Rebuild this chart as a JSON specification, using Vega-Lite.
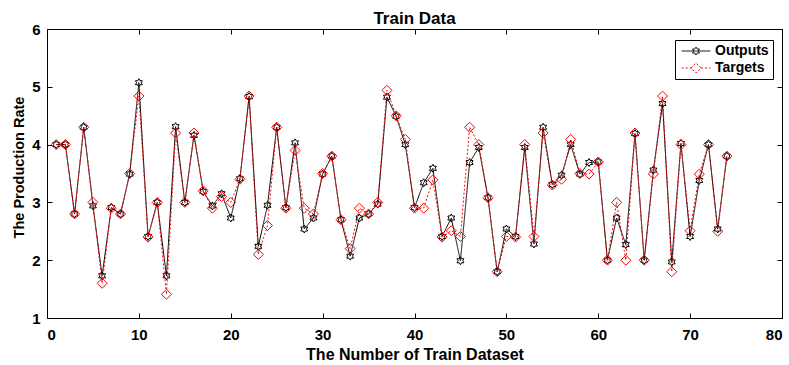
{
  "$schema": "https://vega.github.io/schema/vega-lite/v6.json",
  "width": 735,
  "height": 289,
  "autosize": "none",
  "padding": {"left": 47, "top": 29, "right": 7, "bottom": 47},
  "background": "white",
  "title": {"text": "Train Data", "fontSize": 17, "fontWeight": "bold", "font": "Liberation Sans", "color": "black", "offset": 4, "dy": 10},
  "data": {"values": [
    {"i":1,"Outputs":4.0,"Targets":4.0},{"i":2,"Outputs":4.0,"Targets":4.0},{"i":3,"Outputs":2.8,"Targets":2.8},{"i":4,"Outputs":4.3,"Targets":4.3},
    {"i":5,"Outputs":2.94,"Targets":3.0},{"i":6,"Outputs":1.73,"Targets":1.6},{"i":7,"Outputs":2.91,"Targets":2.9},{"i":8,"Outputs":2.8,"Targets":2.8},
    {"i":9,"Outputs":3.49,"Targets":3.5},{"i":10,"Outputs":5.07,"Targets":4.84},{"i":11,"Outputs":2.41,"Targets":2.4},{"i":12,"Outputs":3.0,"Targets":3.0},
    {"i":13,"Outputs":1.73,"Targets":1.41},{"i":14,"Outputs":4.31,"Targets":4.2},{"i":15,"Outputs":3.0,"Targets":3.0},{"i":16,"Outputs":4.16,"Targets":4.2},
    {"i":17,"Outputs":3.19,"Targets":3.2},{"i":18,"Outputs":2.94,"Targets":2.9},{"i":19,"Outputs":3.15,"Targets":3.1},{"i":20,"Outputs":2.73,"Targets":3.0},
    {"i":21,"Outputs":3.41,"Targets":3.4},{"i":22,"Outputs":4.83,"Targets":4.84},{"i":23,"Outputs":2.24,"Targets":2.1},{"i":24,"Outputs":2.95,"Targets":2.6},
    {"i":25,"Outputs":4.3,"Targets":4.3},{"i":26,"Outputs":2.91,"Targets":2.9},{"i":27,"Outputs":4.03,"Targets":3.9},{"i":28,"Outputs":2.54,"Targets":2.9},
    {"i":29,"Outputs":2.73,"Targets":2.8},{"i":30,"Outputs":3.49,"Targets":3.5},{"i":31,"Outputs":3.8,"Targets":3.8},{"i":32,"Outputs":2.7,"Targets":2.7},
    {"i":33,"Outputs":2.07,"Targets":2.2},{"i":34,"Outputs":2.73,"Targets":2.9},{"i":35,"Outputs":2.8,"Targets":2.8},{"i":36,"Outputs":2.97,"Targets":3.0},
    {"i":37,"Outputs":4.82,"Targets":4.94},{"i":38,"Outputs":4.49,"Targets":4.5},{"i":39,"Outputs":4.0,"Targets":4.09},{"i":40,"Outputs":2.91,"Targets":2.9},
    {"i":41,"Outputs":3.34,"Targets":2.9},{"i":42,"Outputs":3.59,"Targets":3.39},{"i":43,"Outputs":2.41,"Targets":2.4},{"i":44,"Outputs":2.73,"Targets":2.51},
    {"i":45,"Outputs":1.99,"Targets":2.41},{"i":46,"Outputs":3.69,"Targets":4.3},{"i":47,"Outputs":3.95,"Targets":4.0},{"i":48,"Outputs":3.08,"Targets":3.08},
    {"i":49,"Outputs":1.8,"Targets":1.8},{"i":50,"Outputs":2.54,"Targets":2.41},{"i":51,"Outputs":2.41,"Targets":2.4},{"i":52,"Outputs":3.95,"Targets":4.0},
    {"i":53,"Outputs":2.28,"Targets":2.41},{"i":54,"Outputs":4.3,"Targets":4.2},{"i":55,"Outputs":3.31,"Targets":3.3},{"i":56,"Outputs":3.47,"Targets":3.4},
    {"i":57,"Outputs":4.0,"Targets":4.09},{"i":58,"Outputs":3.49,"Targets":3.5},{"i":59,"Outputs":3.69,"Targets":3.49},{"i":60,"Outputs":3.7,"Targets":3.7},
    {"i":61,"Outputs":2.0,"Targets":2.0},{"i":62,"Outputs":2.73,"Targets":3.0},{"i":63,"Outputs":2.27,"Targets":2.0},{"i":64,"Outputs":4.19,"Targets":4.2},
    {"i":65,"Outputs":2.0,"Targets":2.0},{"i":66,"Outputs":3.56,"Targets":3.49},{"i":67,"Outputs":4.71,"Targets":4.84},{"i":68,"Outputs":1.97,"Targets":1.8},
    {"i":69,"Outputs":4.02,"Targets":4.0},{"i":70,"Outputs":2.41,"Targets":2.51},{"i":71,"Outputs":3.38,"Targets":3.49},{"i":72,"Outputs":4.0,"Targets":4.0},
    {"i":73,"Outputs":2.54,"Targets":2.5},{"i":74,"Outputs":3.8,"Targets":3.8}
  ]},
  "transform": [{"fold": ["Outputs", "Targets"], "as": ["series", "value"]}],
  "config": {
    "view": {"stroke": "black", "strokeWidth": 1},
    "axis": {
      "grid": false,
      "domain": false,
      "tickColor": "black",
      "tickSize": -5,
      "labelFont": "Liberation Sans",
      "labelFontWeight": "bold",
      "labelFontSize": 15,
      "labelColor": "black",
      "titleFont": "Liberation Sans",
      "titleFontWeight": "bold",
      "titleFontSize": 16,
      "titleColor": "black"
    }
  },
  "layer": [
    {
      "mark": {"type": "line", "strokeWidth": 1},
      "encoding": {
        "x": {"field": "i", "type": "quantitative", "scale": {"domain": [0, 80], "nice": false},
              "axis": {"values": [0,10,20,30,40,50,60,70,80], "title": "The Number of Train Dataset", "labelPadding": 14, "titlePadding": 4}},
        "y": {"field": "value", "type": "quantitative", "scale": {"domain": [1, 6], "nice": false, "zero": false},
              "axis": {"values": [1,2,3,4,5,6], "title": "The Production Rate", "titleFontSize": 14.5, "titleY": 138, "labelPadding": 12, "titlePadding": 5}},
        "color": {"field": "series", "type": "nominal", "scale": {"domain": ["Outputs", "Targets"], "range": ["black", "red"]},
          "legend": {
            "title": null, "orient": "none", "legendX": 628, "legendY": 11,
            "fillColor": "white", "strokeColor": "black", "padding": 4,
            "labelFont": "Liberation Sans", "labelFontWeight": "bold", "labelFontSize": 14, "labelColor": "black",
            "symbolSize": 64, "rowPadding": 3, "symbolStrokeWidth": 1, "symbolOffset": 10, "labelOffset": 12,
            "encode": {"symbols": {"update": {
              "shape": [
                {"test": "datum.value === 'Outputs'", "value": "M-3.6,0L3.6,0M0,-1L0.289,-0.5L0.866,-0.5L0.577,0L0.866,0.5L0.289,0.5L0,1L-0.289,0.5L-0.866,0.5L-0.577,0L-0.866,-0.5L-0.289,-0.5Z"},
                {"value": "M-3.6,0L-1.25,0M1.25,0L3.6,0M-1.25,0L0,-1.25L1.25,0L0,1.25Z"}
              ],
              "fill": {"value": "transparent"},
              "strokeWidth": {"value": 1}
            }}}
          }},
        "strokeDash": {"field": "series", "type": "nominal", "scale": {"domain": ["Outputs", "Targets"], "range": [[1, 0], [2, 2]]}}
      }
    },
    {
      "transform": [{"filter": "datum.series === 'Outputs'"}],
      "mark": {"type": "point", "filled": false, "strokeWidth": 1, "size": 64, "opacity": 1, "color": "black",
               "shape": "M0,-1L0.289,-0.5L0.866,-0.5L0.577,0L0.866,0.5L0.289,0.5L0,1L-0.289,0.5L-0.866,0.5L-0.577,0L-0.866,-0.5L-0.289,-0.5Z"},
      "encoding": {
        "x": {"field": "i", "type": "quantitative", "axis": {"orient": "top", "values": [0,10,20,30,40,50,60,70,80], "labels": false, "title": null}},
        "y": {"field": "value", "type": "quantitative", "axis": {"orient": "right", "values": [1,2,3,4,5,6], "labels": false, "title": null}}
      }
    },
    {
      "transform": [{"filter": "datum.series === 'Targets'"}],
      "mark": {"type": "point", "filled": false, "strokeWidth": 1, "size": 64, "opacity": 1, "color": "red",
               "shape": "M-1.25,0L0,-1.25L1.25,0L0,1.25Z"},
      "encoding": {
        "x": {"field": "i", "type": "quantitative", "axis": null},
        "y": {"field": "value", "type": "quantitative", "axis": null}
      }
    }
  ],
  "resolve": {"axis": {"x": "independent", "y": "independent"}}
}
